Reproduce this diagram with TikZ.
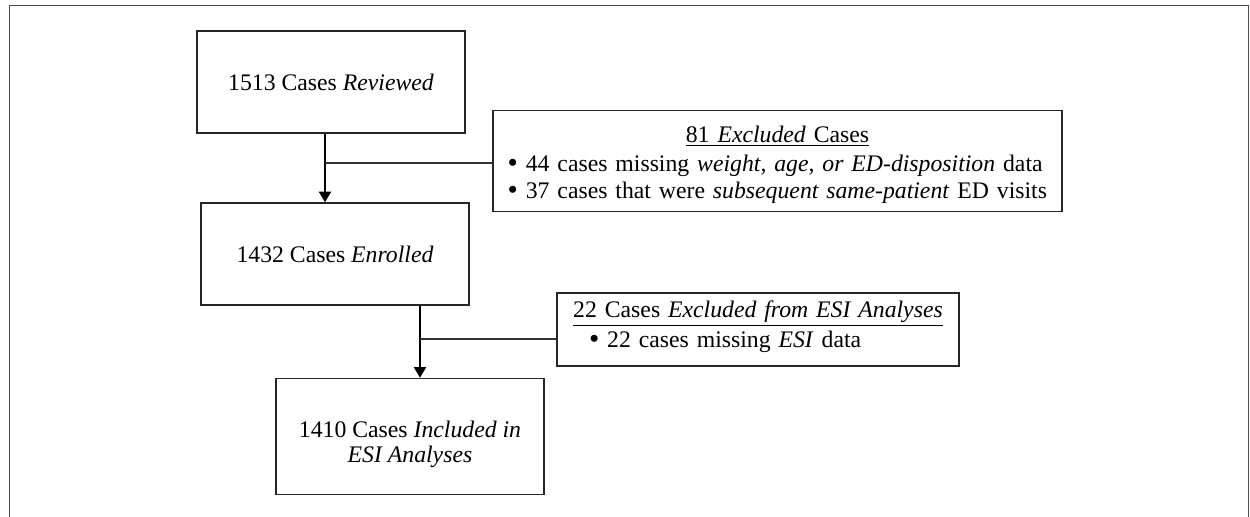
\documentclass[tikz,border=0pt]{standalone}
\usepackage{fontspec}
\setmainfont{Liberation Serif}
\usetikzlibrary{arrows.meta}
\newcommand{\bigbul}{\smash{\raisebox{-1.1pt}{\fontsize{22}{20}\selectfont •}}}
\begin{document}
\begin{tikzpicture}[x=0.75pt,y=-0.75pt,
  font=\fontsize{17.8}{20.3}\selectfont,
  box/.style={draw=black!85,line width=1.1pt,inner sep=0pt,align=center,minimum width=201pt},
  exbox/.style={draw=black!85,line width=1.1pt,inner sep=0pt},
  arr/.style={line width=1.6pt,-{Triangle[length=8pt,width=9pt]}},
  link/.style={line width=1pt,draw=black!80},
  frame/.style={line width=1.1pt,draw=black!70}]
\useasboundingbox (0,0) rectangle (1250,517);
% outer frame (open at bottom)
\coordinate (fbl) at (9.5,517);
\coordinate (ftl) at (9.5,5.5);
\coordinate (ftr) at (1248.5,5.5);
\coordinate (fbr) at (1248.5,517);
\draw[frame] (fbl) -- (ftl) -- (ftr) -- (fbr);
% main boxes
\node[box,minimum height=76.5pt] (b1) at (331,82) {1513 Cases \textit{Reviewed}};
\node[box,minimum height=76.5pt] (b2) at (335,254) {1432 Cases \textit{Enrolled}};
\node[box,minimum height=87pt] (b3) at (410,436.5)
  {\rule{0pt}{24pt}1410 Cases \textit{Included in}\\[-1.5pt]\textit{ESI Analyses}};
% exclusion boxes
\node[exbox,minimum height=75.75pt,text width=426.75pt] (e1) at (777.5,161)
  {\centering\rule{0pt}{18pt}\underline{81 \textit{Excluded} Cases}\par\vspace{1pt}%
   \raggedright\leftskip=11pt
   \bigbul\ 44 cases missing \textit{weight, age, or ED-disposition} data\par
   \bigbul\ 37 cases that were \textit{subsequent same-patient} ED visits\par};
\node[exbox,minimum height=54.75pt,text width=301.5pt] (e2) at (758,329.5)
  {\centering\underline{22 Cases \textit{Excluded from ESI Analyses}}\par\vspace{1.5pt}%
   \raggedright\leftskip=24pt
   \bigbul\ 22 cases missing \textit{ESI} data\rule[-8pt]{0pt}{0pt}\par};
% connectors
\coordinate (j1) at (325,163);
\coordinate (j2) at (420,339);
\draw[arr] (b1.south -| j1) -- (b2.north -| j1);
\draw[link] (j1) -- (j1 -| e1.west);
\draw[arr] (b2.south -| j2) -- (b3.north -| j2);
\draw[link] (j2) -- (j2 -| e2.west);
\end{tikzpicture}
\end{document}
